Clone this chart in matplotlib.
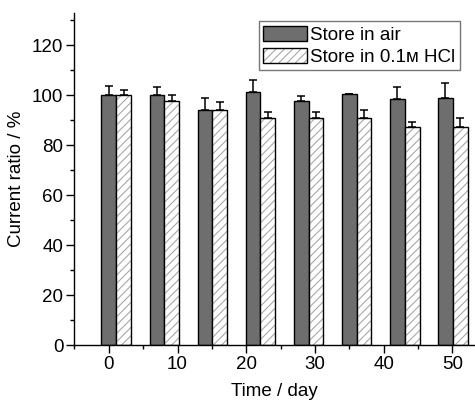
import numpy as np
import matplotlib.pyplot as plt
from matplotlib.patches import Patch
from matplotlib.legend_handler import HandlerTuple
from matplotlib.ticker import MultipleLocator

plt.rcParams['font.family'] = ['Liberation Sans', 'DejaVu Sans']
plt.rcParams['hatch.linewidth'] = 0.8

# storage time and relative current
days = [0, 7, 14, 21, 28, 35, 42, 49]
air_ratio = [100.0, 100.0, 94.1, 101.2, 97.7, 100.3, 98.3, 98.8]
air_err = [3.6, 3.2, 4.8, 4.9, 1.9, 0.2, 4.8, 5.9]
hcl_ratio = [100.0, 97.8, 94.1, 90.8, 90.8, 90.7, 87.1, 87.1]
hcl_err = [1.9, 2.4, 3.0, 2.3, 2.5, 3.3, 2.0, 3.6]

labels = ['Store in air', 'Store in 0.1\u1d0d HCl']

width = 2.15
x = np.array(days, dtype=float)

fig = plt.figure(figsize=(4.75, 4.0), dpi=100)
ax = fig.add_axes([0.1568, 0.1375, 0.8432, 0.83])

err_kw = dict(ecolor='black', elinewidth=1.1, capsize=3.2, capthick=1.1)

# dark bars, upper error only
ax.bar(x, air_ratio, width, color='#6e6e6e', edgecolor='black', linewidth=1.0,
       yerr=[np.zeros(len(air_err)), air_err], error_kw=err_kw, zorder=2)

# hatched bars: hatch drawn in grey, outline drawn separately in black
ax.bar(x + width, hcl_ratio, width, color='white', edgecolor='#a8a8a8',
       hatch='////', linewidth=0, zorder=2)
ax.bar(x + width, hcl_ratio, width, fill=False, edgecolor='black', linewidth=1.0,
       yerr=[np.zeros(len(hcl_err)), hcl_err], error_kw=err_kw, zorder=3)

ax.set_xlim(-5, 53.3)
ax.set_ylim(0, 132.8)
ax.set_xticks([0, 10, 20, 30, 40, 50])
ax.xaxis.set_minor_locator(MultipleLocator(5))
ax.set_yticks([0, 20, 40, 60, 80, 100, 120])
ax.yaxis.set_minor_locator(MultipleLocator(10))

for side in ['top', 'right']:
    ax.spines[side].set_visible(False)
for side in ['left', 'bottom']:
    ax.spines[side].set_linewidth(1.0)

ax.tick_params(which='major', direction='out', length=6, width=1.0,
               labelsize=13.5, pad=2)
ax.tick_params(which='minor', direction='out', length=3.2, width=1.0)

ax.set_xlabel('Time / day', fontsize=13.5, labelpad=7)
ax.set_ylabel('Current ratio / %', fontsize=13.5, labelpad=5)

h_air = Patch(facecolor='#6e6e6e', edgecolor='black', linewidth=1.0)
h_hcl_fill = Patch(facecolor='white', edgecolor='#a8a8a8', hatch='////', linewidth=0)
h_hcl_edge = Patch(fill=False, edgecolor='black', linewidth=1.0)

leg = ax.legend([h_air, (h_hcl_fill, h_hcl_edge)], labels,
                handler_map={tuple: HandlerTuple(ndivide=1, pad=0)},
                loc='upper right', bbox_to_anchor=(0.963, 0.975),
                fontsize=13.5, frameon=True, fancybox=False,
                handlelength=2.3, handleheight=0.85, handletextpad=0.2,
                labelspacing=0.2, borderpad=0.25, borderaxespad=0)
leg.get_frame().set_edgecolor('#555555')
leg.get_frame().set_linewidth(1.0)

fig.savefig('out.png', dpi=100)
